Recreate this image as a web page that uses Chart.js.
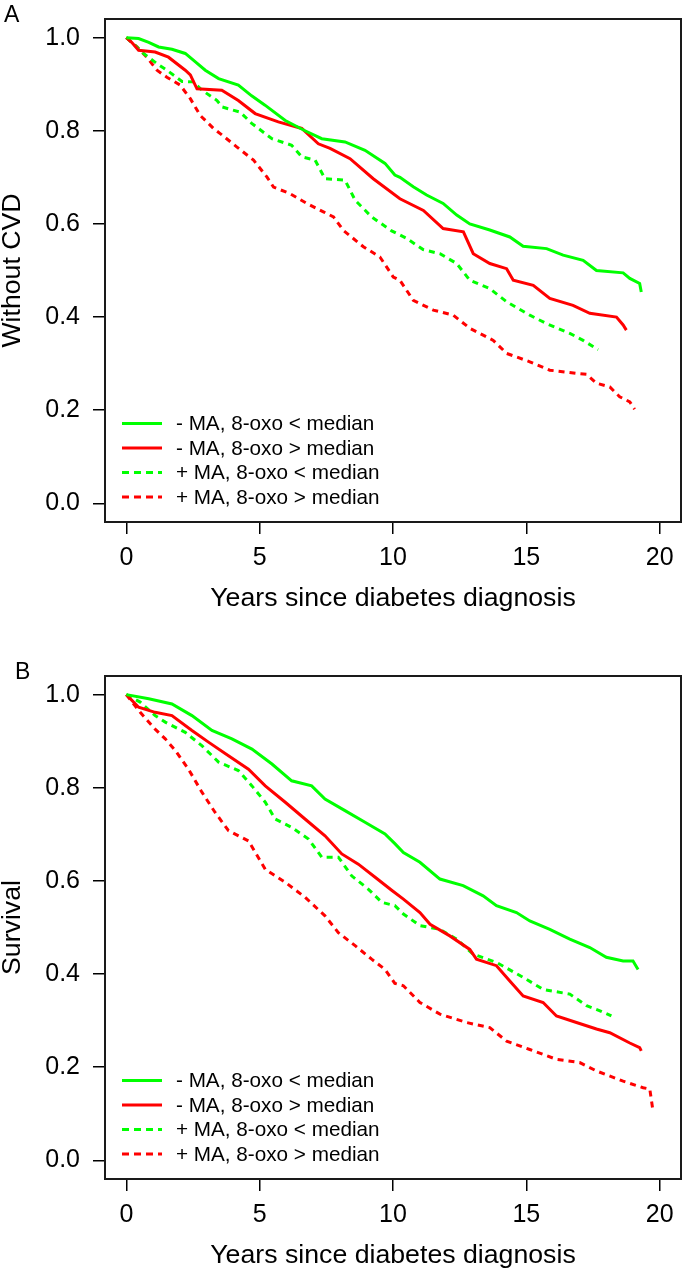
<!DOCTYPE html>
<html>
<head>
<meta charset="utf-8">
<script src="https://cdn.jsdelivr.net/npm/chart.js@4.4.1/dist/chart.umd.min.js"></script>
<style>
  html, body { margin: 0; padding: 0; background: #fff; overflow: hidden; }
  .panel { position: absolute; left: 0; width: 683px; height: 640px; }
  #panelA { top: 0; }
  #panelB { top: 657px; }
</style>
</head>
<body>
<div class="panel" id="panelA"><canvas id="chartA"></canvas></div>
<div class="panel" id="panelB"><canvas id="chartB"></canvas></div>
<script>
const legendLabels = [
  "- MA, 8-oxo < median",
  "- MA, 8-oxo > median",
  "+ MA, 8-oxo < median",
  "+ MA, 8-oxo > median"
];
const xTicks = [0, 5, 10, 15, 20];
const yTicks = [0, 0.2, 0.4, 0.6, 0.8, 1.0];

// Panel A - without CVD
const aNoMaLowYears = [0, 0.46, 0.84, 1.21, 1.71, 2.21, 2.59, 2.96, 3.46, 4.2, 4.7, 5.2, 5.96, 6.7, 7.33, 8.2, 8.95, 9.7, 10.07, 10.26, 10.76, 11.26, 11.88, 12.39, 12.88, 13.63, 14.38, 14.88, 15.76, 16.38, 17.13, 17.63, 18.63, 18.88, 19.25, 19.31];
const aNoMaLowSurv = [1, 0.998, 0.99, 0.98, 0.975, 0.966, 0.948, 0.93, 0.912, 0.898, 0.875, 0.855, 0.822, 0.80, 0.783, 0.776, 0.758, 0.73, 0.705, 0.70, 0.68, 0.662, 0.644, 0.619, 0.60, 0.587, 0.572, 0.552, 0.547, 0.533, 0.522, 0.50, 0.495, 0.483, 0.472, 0.454];

const aNoMaHighYears = [0, 0.2, 0.46, 1.08, 1.58, 2.21, 2.4, 2.65, 3.58, 4.2, 4.83, 5.7, 6.58, 7.2, 7.64, 8.39, 9.26, 10.26, 11.14, 11.88, 12.64, 13.01, 13.63, 14.26, 14.51, 15.26, 15.88, 16.75, 17.38, 18.38, 18.63, 18.75];
const aNoMaHighSurv = [1, 0.99, 0.973, 0.969, 0.958, 0.93, 0.92, 0.89, 0.887, 0.865, 0.837, 0.819, 0.805, 0.772, 0.762, 0.74, 0.697, 0.654, 0.629, 0.59, 0.583, 0.536, 0.515, 0.504, 0.479, 0.468, 0.44, 0.425, 0.408, 0.40, 0.383, 0.372];

const aMaLowYears = [0, 0.3, 0.64, 1.15, 1.57, 2.09, 2.51, 2.84, 3.4, 3.6, 4.27, 4.7, 5.46, 6.2, 6.58, 7.08, 7.45, 8.2, 8.58, 9.2, 9.95, 10.51, 11.13, 11.76, 12.39, 12.88, 13.63, 14.26, 15.13, 15.76, 16.63, 17.13, 17.69];
const aMaLowSurv = [1, 0.985, 0.966, 0.944, 0.928, 0.906, 0.905, 0.887, 0.865, 0.851, 0.84, 0.816, 0.783, 0.769, 0.744, 0.737, 0.697, 0.694, 0.651, 0.615, 0.585, 0.569, 0.545, 0.536, 0.515, 0.479, 0.461, 0.433, 0.404, 0.386, 0.365, 0.35, 0.33];

const aMaHighYears = [0, 0.4, 0.77, 1.15, 1.52, 2.02, 2.4, 2.77, 3.27, 3.52, 4.15, 4.77, 5.27, 5.52, 6.14, 6.77, 7.39, 7.77, 8.14, 8.89, 9.51, 10.01, 10.26, 10.76, 11.51, 12.26, 12.88, 13.76, 14.26, 15.13, 15.88, 16.88, 17.26, 17.63, 18.13, 18.5, 18.88, 19.06];
const aMaHighSurv = [1, 0.98, 0.958, 0.93, 0.915, 0.898, 0.869, 0.833, 0.805, 0.794, 0.765, 0.737, 0.701, 0.679, 0.665, 0.644, 0.626, 0.615, 0.586, 0.551, 0.529, 0.486, 0.479, 0.436, 0.415, 0.404, 0.376, 0.35, 0.322, 0.304, 0.286, 0.279, 0.277, 0.258, 0.25, 0.229, 0.218, 0.202];

// Panel B - survival
const bNoMaLowYears = [0, 0.84, 1.71, 2.46, 3.21, 3.96, 4.71, 5.46, 6.2, 6.95, 7.45, 8.2, 8.95, 9.7, 10.07, 10.39, 11.01, 11.76, 12.63, 13.38, 13.88, 14.63, 15.13, 15.88, 16.63, 17.38, 18.0, 18.63, 19.0, 19.19];
const bNoMaLowSurv = [1, 0.991, 0.98, 0.955, 0.923, 0.905, 0.883, 0.851, 0.815, 0.804, 0.776, 0.751, 0.726, 0.701, 0.68, 0.661, 0.64, 0.604, 0.59, 0.568, 0.547, 0.532, 0.514, 0.496, 0.475, 0.457, 0.436, 0.428, 0.428, 0.41];

const bNoMaHighYears = [0, 0.46, 1.08, 1.71, 2.46, 3.08, 3.83, 4.58, 5.21, 5.96, 6.7, 7.45, 8.08, 8.7, 9.33, 9.95, 10.39, 11.01, 11.39, 12.13, 12.88, 13.13, 13.88, 14.38, 14.88, 15.63, 16.13, 16.88, 17.63, 18.13, 18.88, 19.25, 19.31];
const bNoMaHighSurv = [1, 0.973, 0.962, 0.955, 0.923, 0.898, 0.869, 0.84, 0.804, 0.769, 0.733, 0.697, 0.658, 0.636, 0.608, 0.58, 0.561, 0.532, 0.507, 0.482, 0.453, 0.432, 0.418, 0.385, 0.353, 0.339, 0.31, 0.296, 0.282, 0.274, 0.252, 0.242, 0.235];

const bMaLowYears = [0, 0.52, 1.08, 1.46, 2.21, 2.84, 3.46, 4.2, 4.71, 5.21, 5.58, 6.2, 6.83, 7.33, 7.95, 8.45, 9.08, 9.58, 10.07, 10.39, 11.01, 11.76, 12.39, 13.0, 13.88, 14.88, 15.63, 16.63, 17.26, 17.76, 18.19];
const bMaLowSurv = [1, 0.984, 0.955, 0.941, 0.919, 0.89, 0.855, 0.837, 0.804, 0.769, 0.733, 0.715, 0.69, 0.651, 0.651, 0.611, 0.582, 0.554, 0.547, 0.529, 0.504, 0.496, 0.475, 0.443, 0.425, 0.393, 0.367, 0.357, 0.332, 0.321, 0.31];

const bMaHighYears = [0, 0.52, 1.08, 1.46, 1.84, 2.33, 2.84, 3.33, 3.83, 4.58, 5.21, 5.96, 6.7, 7.45, 7.95, 8.58, 9.2, 9.7, 10.07, 10.39, 11.01, 11.76, 12.76, 13.63, 14.26, 15.13, 16.13, 17.0, 17.63, 18.63, 19.38, 19.63, 19.75];
const bMaHighSurv = [1, 0.962, 0.926, 0.905, 0.88, 0.84, 0.79, 0.747, 0.708, 0.686, 0.625, 0.597, 0.565, 0.525, 0.489, 0.461, 0.432, 0.41, 0.38, 0.375, 0.339, 0.314, 0.296, 0.285, 0.256, 0.238, 0.217, 0.21, 0.192, 0.17, 0.156, 0.153, 0.106];

const FONT = "'Liberation Sans', Arial, sans-serif";
const GREEN = "#00ff00";
const RED = "#ff0000";
const DASH = [6, 5];

function toPoints(years, surv) {
  return years.map((t, i) => ({ x: t, y: surv[i] }));
}

// drop the label overflow padding so the plot box sits where the layout says
function noOverflow(scale) {
  scale.paddingTop = 0;
  scale.paddingBottom = 0;
  scale.paddingLeft = 0;
  scale.paddingRight = 0;
}

// full box round the plot region, like R's box()
const boxPlugin = {
  id: "box",
  afterDraw(chart) {
    const { ctx, chartArea: a } = chart;
    ctx.save();
    ctx.strokeStyle = "#1a1a1a";
    ctx.lineWidth = 2;
    ctx.strokeRect(a.left, a.top, a.right - a.left, a.bottom - a.top);
    ctx.restore();
  }
};

// legend drawn inside the plot, bottom left
const insideLegend = {
  id: "insideLegend",
  afterDraw(chart) {
    const { ctx, chartArea: a } = chart;
    const rows = chart.data.datasets;
    ctx.save();
    ctx.font = "20.7px " + FONT;
    ctx.textBaseline = "middle";
    ctx.fillStyle = "#000";
    rows.forEach((ds, i) => {
      const y = a.bottom - 25 - (rows.length - 1 - i) * 24.5;
      ctx.strokeStyle = ds.borderColor;
      ctx.lineWidth = 3;
      ctx.setLineDash(ds.borderDash && ds.borderDash.length ? [7, 5] : []);
      ctx.beginPath();
      ctx.moveTo(a.left + 17, y);
      ctx.lineTo(a.left + 57, y);
      ctx.stroke();
      ctx.fillText(ds.label, a.left + 71, y + 1);
    });
    ctx.restore();
  }
};

const panelLetter = {
  id: "panelLetter",
  afterDraw(chart, args, opts) {
    const { ctx } = chart;
    ctx.save();
    ctx.font = "23px " + FONT;
    ctx.fillStyle = "#000";
    ctx.textBaseline = "alphabetic";
    ctx.fillText(opts.text, opts.x, 22);
    ctx.restore();
  }
};

function makeChart(canvasId, letter, letterX, yTitle, series) {
  const datasets = series.map((s, i) => ({
    label: legendLabels[i],
    data: toPoints(s.years, s.surv),
    borderColor: s.color,
    borderDash: s.dashed ? DASH : [],
    borderWidth: 3,
    pointRadius: 0,
    fill: false,
    tension: 0
  }));

  return new Chart(document.getElementById(canvasId), {
    type: "line",
    data: { datasets },
    plugins: [boxPlugin, insideLegend, panelLetter],
    options: {
      responsive: true,
      maintainAspectRatio: false,
      animation: false,
      layout: { padding: { top: 19, right: 2, left: 0, bottom: 0 } },
      plugins: {
        legend: { display: false },
        tooltip: { enabled: false },
        panelLetter: { text: letter, x: letterX }
      },
      scales: {
        x: {
          type: "linear",
          min: -0.8,
          max: 20.8,
          afterBuildTicks: (scale) => { scale.ticks = xTicks.map((v) => ({ value: v })); },
          afterFit: (scale) => { scale.height = 118; noOverflow(scale); },
          grid: { drawOnChartArea: false, drawTicks: true, tickLength: 12, color: "#000", lineWidth: 1.5 },
          border: { display: true, color: "#1a1a1a", width: 2 },
          ticks: { color: "#000", font: { family: FONT, size: 25 }, padding: 9, maxRotation: 0, autoSkip: false },
          title: {
            display: true,
            text: "Years since diabetes diagnosis",
            color: "#000",
            font: { family: FONT, size: 26.7 },
            padding: { top: 0, bottom: 25 }
          }
        },
        y: {
          type: "linear",
          min: -0.04,
          max: 1.04,
          afterBuildTicks: (scale) => { scale.ticks = yTicks.map((v) => ({ value: v })); },
          afterFit: (scale) => { scale.width = 105; noOverflow(scale); },
          grid: { drawOnChartArea: false, drawTicks: true, tickLength: 12, color: "#000", lineWidth: 1.5 },
          border: { display: true, color: "#1a1a1a", width: 2 },
          ticks: {
            color: "#000",
            font: { family: FONT, size: 25 },
            padding: 13,
            callback: (v) => Number(v).toFixed(1)
          },
          title: {
            display: true,
            text: yTitle,
            color: "#000",
            font: { family: FONT, size: 26.7 },
            padding: { top: -3, bottom: 0 }
          }
        }
      }
    }
  });
}

makeChart("chartA", "A", 4, "Without CVD", [
  { years: aNoMaLowYears, surv: aNoMaLowSurv, color: GREEN, dashed: false },
  { years: aNoMaHighYears, surv: aNoMaHighSurv, color: RED, dashed: false },
  { years: aMaLowYears, surv: aMaLowSurv, color: GREEN, dashed: true },
  { years: aMaHighYears, surv: aMaHighSurv, color: RED, dashed: true }
]);

makeChart("chartB", "B", 15, "Survival", [
  { years: bNoMaLowYears, surv: bNoMaLowSurv, color: GREEN, dashed: false },
  { years: bNoMaHighYears, surv: bNoMaHighSurv, color: RED, dashed: false },
  { years: bMaLowYears, surv: bMaLowSurv, color: GREEN, dashed: true },
  { years: bMaHighYears, surv: bMaHighSurv, color: RED, dashed: true }
]);
</script>
</body>
</html>
